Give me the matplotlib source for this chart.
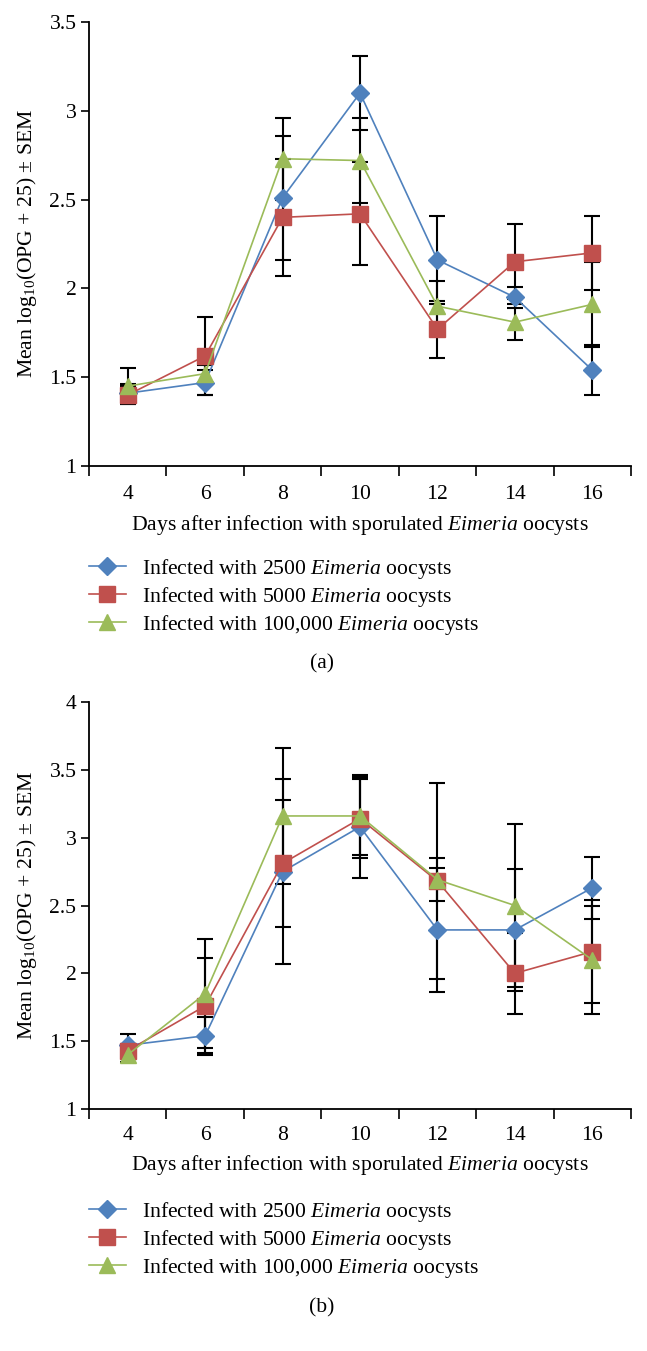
import matplotlib
matplotlib.use("Agg")
import matplotlib.pyplot as plt
import numpy as np

plt.rcParams['font.family'] = ['Liberation Serif', 'DejaVu Serif']
plt.rcParams['mathtext.fontset'] = 'custom'
plt.rcParams['mathtext.rm'] = 'Liberation Serif'
plt.rcParams['mathtext.it'] = 'Liberation Serif:italic'

days = ["4", "6", "8", "10", "12", "14", "16"]
series_labels = [r"Infected with 2500 $\mathit{Eimeria}$ oocysts",
                 r"Infected with 5000 $\mathit{Eimeria}$ oocysts",
                 r"Infected with 100,000 $\mathit{Eimeria}$ oocysts"]

# Panel (a)
a_2500 = [1.41, 1.47, 2.51, 3.10, 2.16, 1.95, 1.54]
a_2500_sem = [0.05, 0.07, 0.35, 0.21, 0.25, 0.06, 0.14]
a_5000 = [1.40, 1.62, 2.40, 2.42, 1.77, 2.15, 2.20]
a_5000_sem = [0.05, 0.22, 0.33, 0.29, 0.16, 0.21, 0.21]
a_100k = [1.45, 1.52, 2.73, 2.72, 1.90, 1.81, 1.91]
a_100k_sem = [0.10, 0.05, 0.23, 0.24, 0.14, 0.10, 0.24]

# Panel (b)
b_2500 = [1.47, 1.54, 2.75, 3.08, 2.32, 2.32, 2.63]
b_2500_sem = [0.08, 0.14, 0.68, 0.38, 0.46, 0.45, 0.23]
b_5000 = [1.43, 1.76, 2.81, 3.14, 2.68, 2.00, 2.16]
b_5000_sem = [0.05, 0.35, 0.47, 0.29, 0.72, 0.30, 0.38]
b_100k = [1.40, 1.85, 3.16, 3.16, 2.69, 2.50, 2.10]
b_100k_sem = [0.05, 0.40, 0.50, 0.29, 0.16, 0.60, 0.40]

colors = ["#4F81BD", "#C0504D", "#9BBB59"]
markers = ["D", "s", "^"]
msizes = [9, 11, 11]

W, H = 647, 1351
fig = plt.figure(figsize=(W / 100, H / 100), dpi=100)

FS = 15.6


def make_panel(rect, data, sems, ylim, yticks, ylabels, xpad, xlab_off, legend_top, tag, tag_y):
    ax = fig.add_axes(rect)
    x = np.arange(len(days)) + 0.5
    for vals, err in zip(data, sems):
        ax.errorbar(x, vals, yerr=err, fmt='none', ecolor='black',
                    elinewidth=1.5, capsize=6, capthick=1.5, zorder=2)
    handles = []
    for vals, c, m, ms, lab in zip(data, colors, markers, msizes, series_labels):
        h, = ax.plot(x, vals, color=c, lw=1.2, marker=m, markersize=ms,
                     markerfacecolor=c, markeredgecolor=c, zorder=3, label=lab)
        handles.append(h)
    ax.set_xlim(0, len(days))
    ax.set_ylim(*ylim)
    ax.set_yticks(yticks)
    ax.set_yticklabels(ylabels)
    ax.set_xticks(np.arange(len(days) + 1))
    ax.set_xticklabels([])
    ax.set_xticks(x, minor=True)
    ax.set_xticklabels(days, minor=True)
    ax.tick_params(axis='x', which='major', direction='out', length=7, width=1.2)
    ax.tick_params(axis='x', which='minor', length=0, pad=xpad, labelsize=FS)
    ax.tick_params(axis='y', direction='out', length=6, width=1.2, pad=3, labelsize=FS)
    for s in ['top', 'right']:
        ax.spines[s].set_visible(False)
    for s in ['left', 'bottom']:
        ax.spines[s].set_linewidth(1.3)
    ax.set_xlabel(r"Days after infection with sporulated $\mathit{Eimeria}$ oocysts", fontsize=FS)
    ax.xaxis.set_label_coords(0.5, -xlab_off / (rect[3] * H))
    ax.set_ylabel(r"Mean log$_{10}$(OPG + 25) ± SEM", fontsize=FS)
    ax.yaxis.set_label_coords(-50 / (rect[2] * W), 0.5)
    fig.legend(handles=handles, loc='upper left',
               bbox_to_anchor=(89 / W, 1 - legend_top / H),
               frameon=False, fontsize=FS, handlelength=1.7,
               handletextpad=0.75, labelspacing=0.18, borderpad=0,
               borderaxespad=0)
    fig.text(322 / W, 1 - tag_y / H, tag, fontsize=FS, ha='center', va='center')
    return ax


make_panel([89 / W, 1 - 466 / H, 542 / W, 444 / H],
           [a_2500, a_5000, a_100k], [a_2500_sem, a_5000_sem, a_100k_sem],
           (1, 3.5), [1, 1.5, 2, 2.5, 3, 3.5], ["1", "1.5", "2", "2.5", "3", "3.5"],
           13.5, 47, 557, "(a)", 664)

make_panel([89 / W, 1 - 1109 / H, 542 / W, 407 / H],
           [b_2500, b_5000, b_100k], [b_2500_sem, b_5000_sem, b_100k_sem],
           (1, 4), [1, 1.5, 2, 2.5, 3, 3.5, 4], ["1", "1.5", "2", "2.5", "3", "3.5", "4"],
           12, 44, 1200, "(b)", 1308)

fig.savefig("out.png", dpi=100)
